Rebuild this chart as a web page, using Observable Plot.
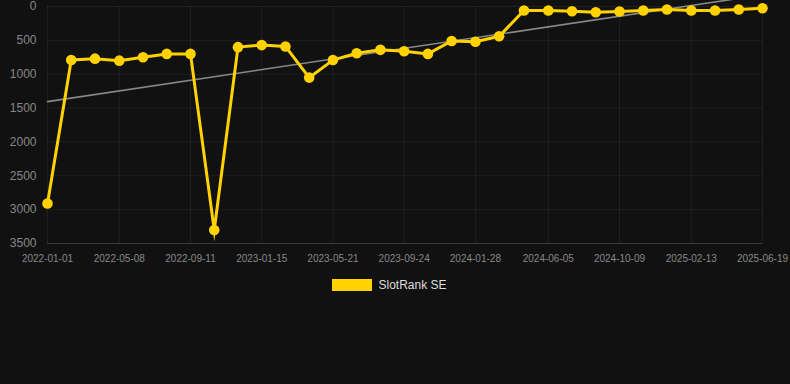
<!DOCTYPE html>
<html>
<head>
<meta charset="utf-8">
<script src="https://cdn.jsdelivr.net/npm/d3@7"></script>
<script src="https://cdn.jsdelivr.net/npm/@observablehq/plot@0.6"></script>
<style>
  html, body { margin: 0; padding: 0; background: #111111; width: 790px; height: 384px; overflow: hidden; }
  #chart svg { display: block; }
  .legend { display: flex; justify-content: center; align-items: center; margin-top: 10px; margin-left: -11px;
            font-family: "Liberation Sans", Arial, sans-serif; font-size: 12px; color: #dddddd; }
  .legend .sw { width: 40px; height: 12px; background: #FFD200; margin-right: 6px; }
</style>
</head>
<body>
<div id="chart"></div>
<div class="legend"><span class="sw"></span><span>SlotRank SE</span></div>
<script>
const dates = [
  "2022-01-01","2022-02-12","2022-03-26","2022-05-08","2022-06-19","2022-07-31",
  "2022-09-11","2022-10-23","2022-12-04","2023-01-15","2023-02-26","2023-04-09",
  "2023-05-21","2023-07-02","2023-08-13","2023-09-24","2023-11-05","2023-12-17",
  "2024-01-28","2024-03-10","2024-04-23","2024-06-05","2024-07-17","2024-08-28",
  "2024-10-09","2024-11-20","2025-01-01","2025-02-13","2025-03-27","2025-05-08",
  "2025-06-19"
];
const ranks = [
  2910, 790, 770, 800, 750, 700,
  700, 3300, 600, 570, 590, 1050,
  790, 690, 640, 660, 700, 510,
  520, 440, 60, 60, 70, 85,
  74, 60, 44, 60, 60, 44,
  25
];
const xTickLabels = ["2022-01-01","2022-05-08","2022-09-11","2023-01-15","2023-05-21","2023-09-24",
                     "2024-01-28","2024-06-05","2024-10-09","2025-02-13","2025-06-19"];
const yTicks = [0, 500, 1000, 1500, 2000, 2500, 3000, 3500];
const seriesName = "SlotRank SE";

const parse = d3.utcParse("%Y-%m-%d");
const data = dates.map((d, i) => ({date: parse(d), rank: ranks[i], series: seriesName}));
const xTicks = xTickLabels.map(parse);

const chart = Plot.plot({
  width: 790,
  height: 268,
  marginLeft: 47,
  marginRight: 28,
  marginTop: 6,
  marginBottom: 25,
  style: {background: "#111111", color: "#888888", fontFamily: "'Liberation Sans', Arial, sans-serif", overflow: "hidden"},
  x: {type: "utc", domain: [data[0].date, data[data.length - 1].date]},
  y: {domain: [0, 3500], reverse: true},
  marks: [
    Plot.gridX(xTicks, {stroke: "#ffffff", strokeOpacity: 0.06}),
    Plot.gridY(yTicks, {stroke: "#ffffff", strokeOpacity: 0.06}),
    Plot.ruleY([3500], {stroke: "#ffffff", strokeOpacity: 0.12}),
    Plot.axisX(xTicks, {tickSize: 0, tickPadding: 11, tickFormat: d3.utcFormat("%Y-%m-%d"), fontSize: 10, fill: "#888888", label: null}),
    Plot.axisY(yTicks, {tickSize: 0, tickPadding: 11, tickFormat: d3.format("d"), fontSize: 12, fill: "#888888", label: null}),
    Plot.linearRegressionY(data, {x: "date", y: "rank", stroke: "#888888", strokeWidth: 1.6, ci: 0}),
    Plot.line(data, {x: "date", y: "rank", stroke: "#FFD200", strokeWidth: 3, strokeLinejoin: "miter", strokeMiterlimit: 10}),
    Plot.dot(data, {x: "date", y: "rank", r: 5.3, fill: "#FFD200"})
  ]
});
document.getElementById("chart").appendChild(chart);
</script>
</body>
</html>
